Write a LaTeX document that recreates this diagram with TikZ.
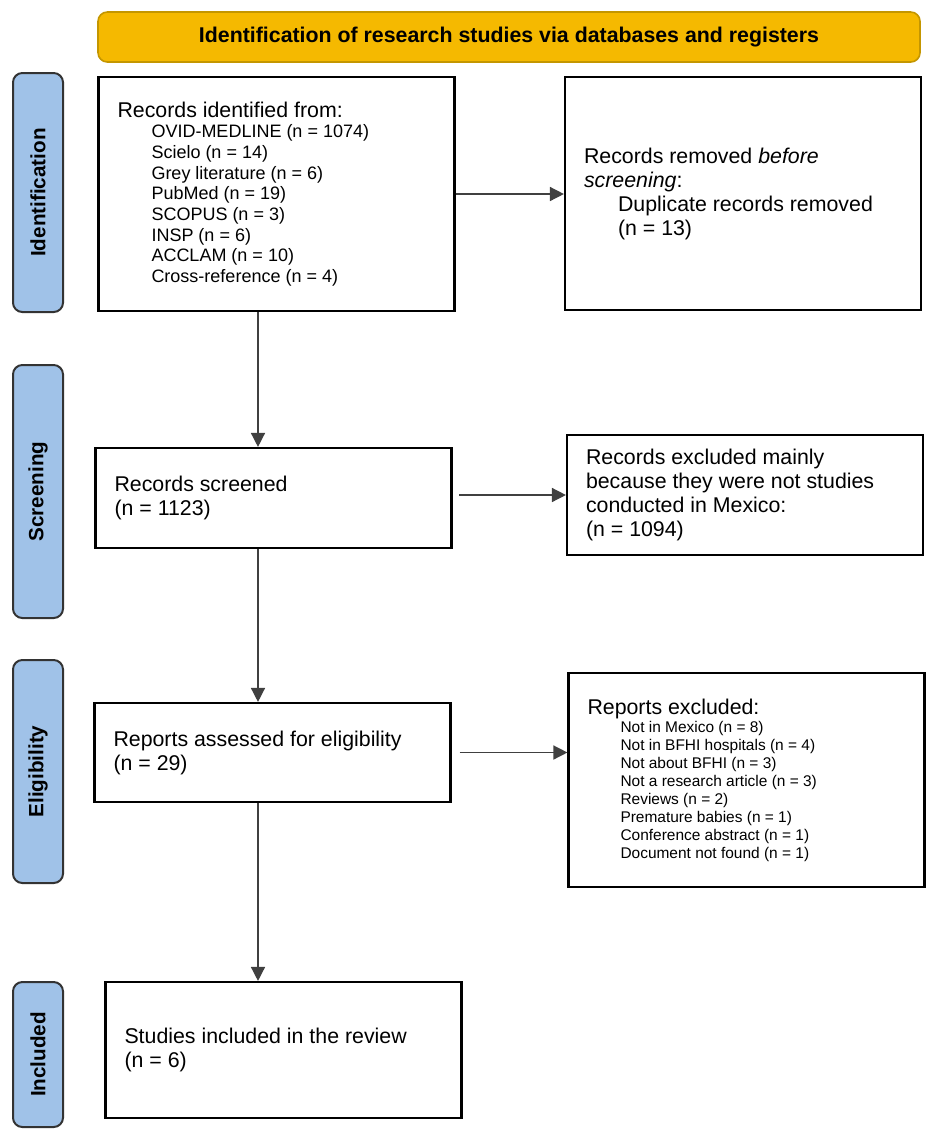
\documentclass[tikz,border=0pt]{standalone}
\usepackage{fontspec}
\setmainfont{Liberation Sans}
\usetikzlibrary{arrows.meta}

\definecolor{headgold}{RGB}{245,185,0}
\definecolor{headedge}{RGB}{196,150,0}
\definecolor{phaseblue}{RGB}{160,194,232}

\newcommand{\boxfont}{\fontsize{16}{18}\selectfont}
\newcommand{\listfont}{\fontsize{13.5}{15.5}\selectfont}
\newcommand{\smalllist}{\fontsize{11.6}{13.5}\selectfont}

\begin{document}
\begin{tikzpicture}[
        x=0.75pt, y=-0.75pt,
        box/.style={rectangle, draw=black, line width=1.6pt, fill=white, minimum width=267pt, text width=238.5pt, inner xsep=14.25pt, align=flush left, font=\boxfont},
        phase/.style={rectangle, draw=black!80, line width=1.5pt, fill=phaseblue, rounded corners=7pt, rotate=90, minimum height=37.5pt, font=\bfseries\fontsize{15.5}{18}\selectfont},
        header/.style={rectangle, draw=headedge, line width=1.2pt, fill=headgold, rounded corners=7pt, minimum width=616.5pt, minimum height=37.5pt, font=\bfseries\fontsize{16}{18}\selectfont},
        arrow/.style={line width=1.1pt, draw=black!75, -{Triangle[length=10.5pt,width=10.5pt]}}
    ]
        \useasboundingbox (0,0) rectangle (935,1140);

        % Header
        \node[header] (title) at (509,37) {Identification of research studies via databases and registers};

        % Phases
        \node[phase, minimum width=179.25pt] (phaseid) at (38,192.5) {Identification};
        \node[phase, minimum width=189.75pt] (phasescr) at (38,491.5) {Screening};
        \node[phase, minimum width=167.25pt] (phaseelig) at (38,771.5) {Eligibility};
        \node[phase, minimum width=108.75pt] (phaseinc) at (38,1054.5) {Included};

        % Nodes
        \node[box, minimum height=175.5pt] (ident) at (276.5,194) {Records identified from:\par
            {\listfont\leftskip=25.5pt OVID-MEDLINE (n = 1074)\\ Scielo (n = 14)\\ Grey literature (n = 6)\\ PubMed (n = 19)\\ SCOPUS (n = 3)\\ INSP (n = 6)\\ ACCLAM (n = 10)\\ Cross-reference (n = 4)\par}};
        \node[box, minimum height=174.75pt] (removed) at (743,193.5) {Records removed \textit{before}\\ \textit{screening}:\par
            {\leftskip=25.5pt Duplicate records removed\\ (n = 13)\par}};
        \node[box, minimum height=75pt] (screened) at (273.5,498) {Records screened\\ (n = 1123)};
        \node[box, minimum height=90pt] (excluded) at (745,495) {Records excluded mainly\\ because they were not studies\\ conducted in Mexico:\\ (n = 1094)};
        \node[box, minimum height=74.25pt] (reports) at (272.5,752.5) {Reports assessed for eligibility\\ (n = 29)};
        \node[box, minimum height=160.5pt] (repexcl) at (746.5,780) {Reports excluded:\par
            {\smalllist\leftskip=24.75pt Not in Mexico (n = 8)\\ Not in BFHI hospitals (n = 4)\\ Not about BFHI (n = 3)\\ Not a research article (n = 3)\\ Reviews (n = 2)\\ Premature babies (n = 1)\\ Conference abstract (n = 1)\\ Document not found (n = 1)\par}};
        \node[box, minimum height=102pt] (included) at (283.5,1050) {Studies included in the review\\ (n = 6)};

        % Arrows
        \coordinate (trunk) at (258,0);
        \draw[arrow] (ident.east) -- (ident.east -| removed.west);
        \draw[arrow] (ident.south -| trunk) -- (screened.north -| trunk);
        \draw[arrow, shorten <=5pt] (excluded.west -| screened.east) -- (excluded.west);
        \draw[arrow] (screened.south -| trunk) -- (reports.north -| trunk);
        \draw[arrow, shorten <=6pt] (reports.east) -- (reports.east -| repexcl.west);
        \draw[arrow] (reports.south -| trunk) -- (included.north -| trunk);

    \end{tikzpicture}
\end{document}
